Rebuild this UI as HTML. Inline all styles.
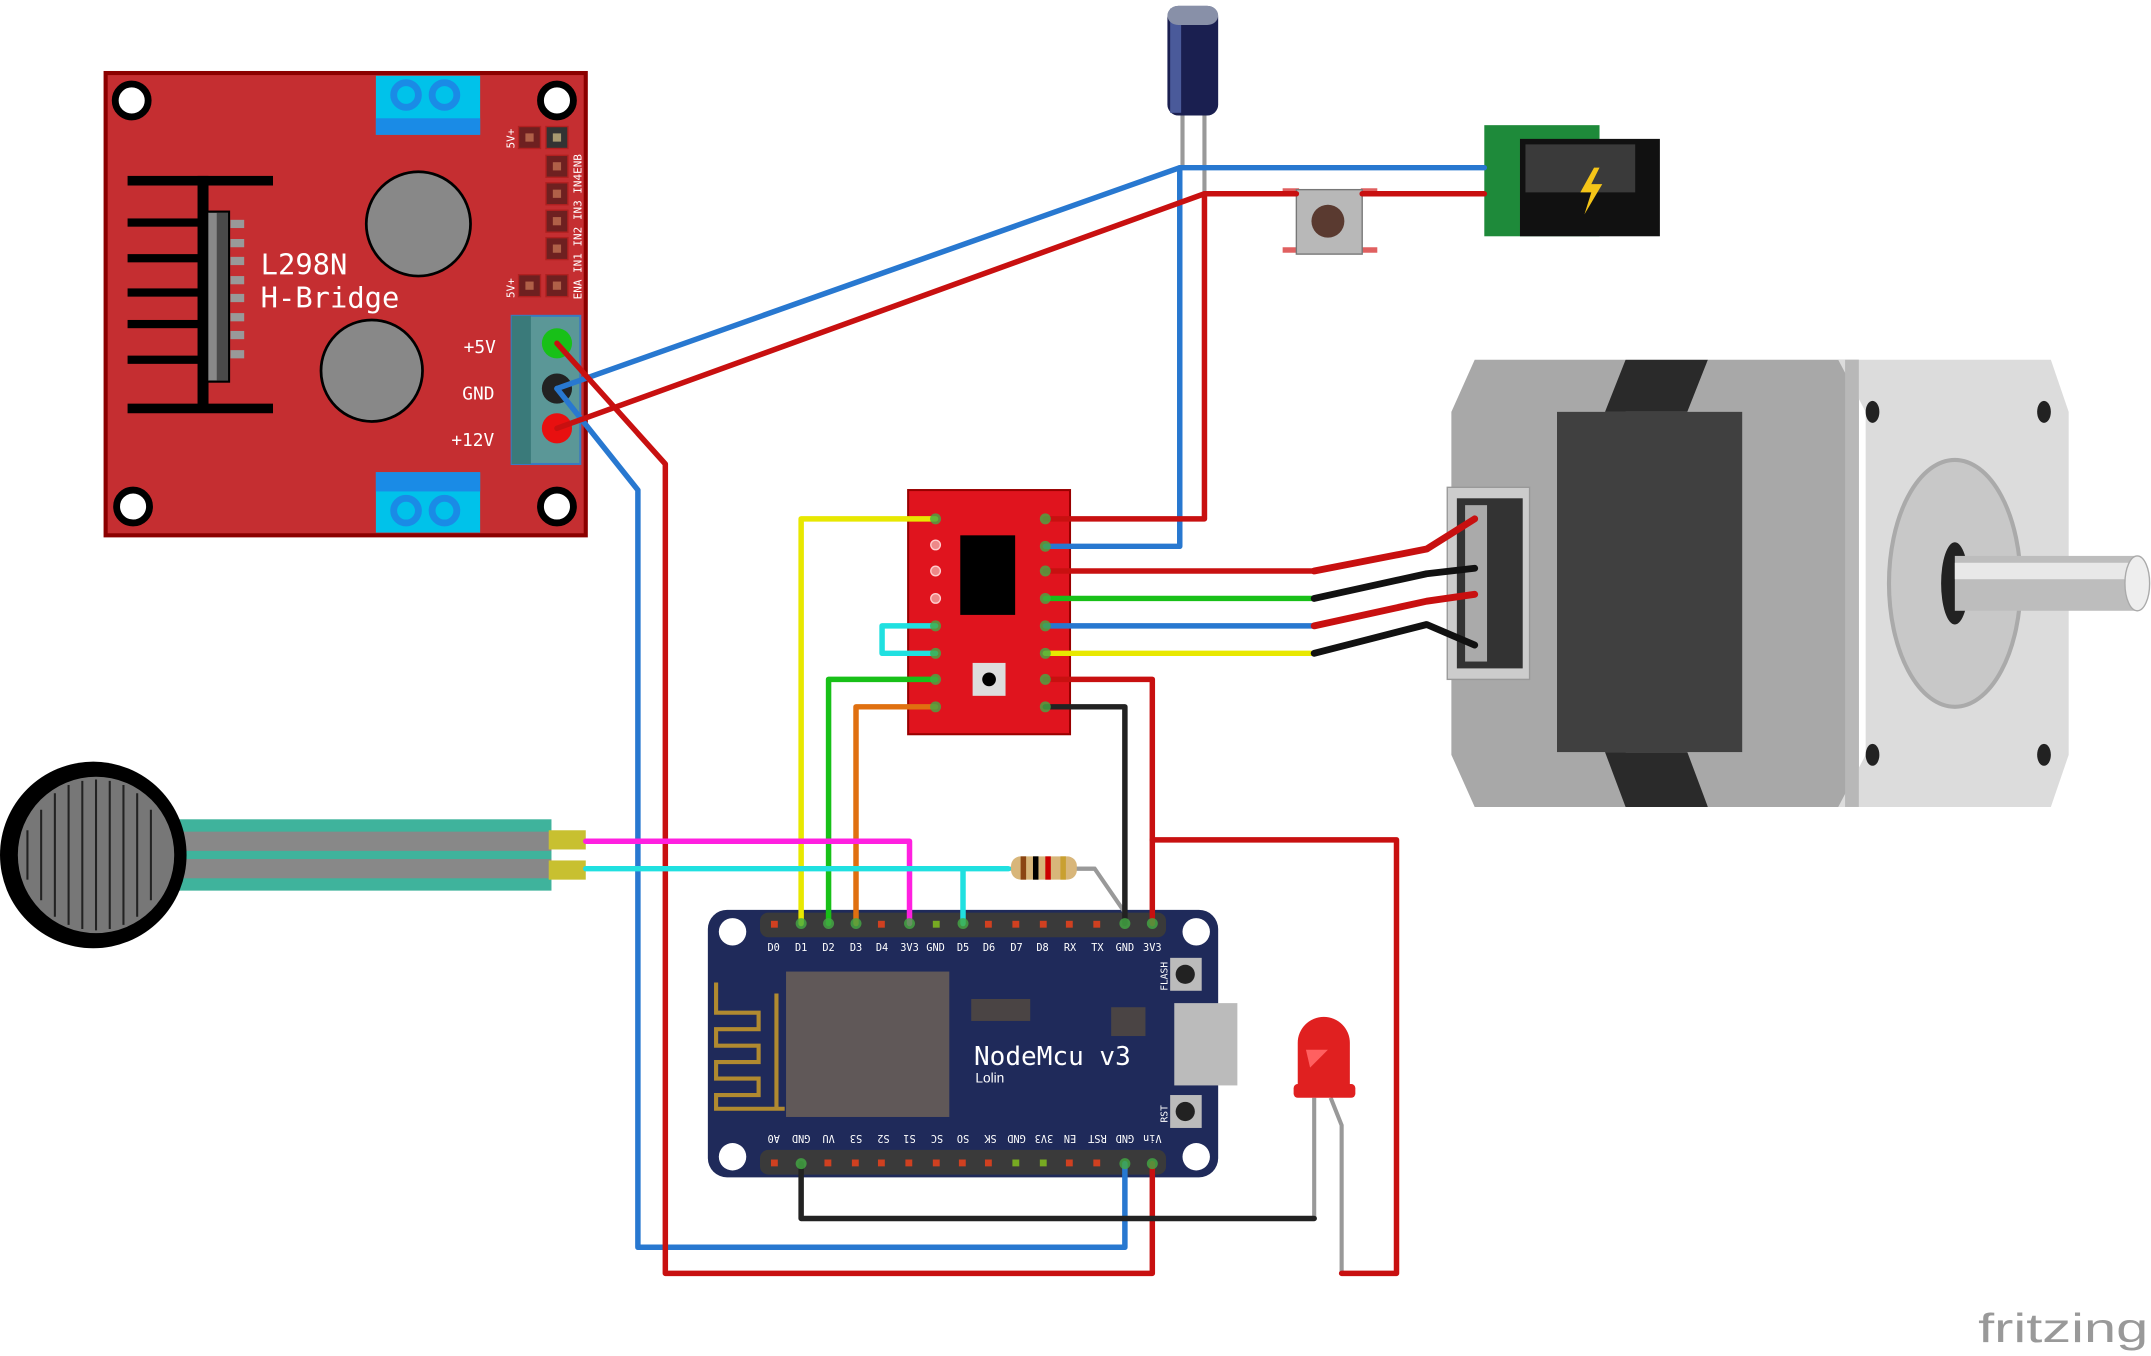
<!DOCTYPE html>
<html><head><meta charset="utf-8"><style>
html,body{margin:0;padding:0;background:#fff;width:2151px;height:1356px;overflow:hidden}
svg{display:block}
text{font-family:"DejaVu Sans Mono","Liberation Mono",monospace}
</style></head><body>
<svg width="2151" height="1356" viewBox="0 0 1568 988" xmlns="http://www.w3.org/2000/svg">
<!-- L298N -->
<rect x="77" y="53" width="350" height="337" fill="#c52e31" stroke="#8b0000" stroke-width="3"/>
<g fill="#fff" stroke="#000" stroke-width="5">
<circle cx="96" cy="73" r="12"/><circle cx="406" cy="73" r="12"/><circle cx="97" cy="369" r="12"/><circle cx="406" cy="369" r="12"/></g>
<rect x="274" y="55" width="76" height="43" fill="#00c2ea"/><rect x="274" y="86" width="76" height="12" fill="#1a8be6"/>
<circle cx="296" cy="69" r="9" fill="none" stroke="#1a8be6" stroke-width="5"/><circle cx="324" cy="69" r="9" fill="none" stroke="#1a8be6" stroke-width="5"/>
<rect x="274" y="344" width="76" height="44" fill="#00c2ea"/><rect x="274" y="344" width="76" height="14" fill="#1a8be6"/>
<circle cx="296" cy="372" r="9" fill="none" stroke="#1a8be6" stroke-width="5"/><circle cx="324" cy="372" r="9" fill="none" stroke="#1a8be6" stroke-width="5"/>
<g fill="#000"><rect x="93" y="128" width="106" height="7"/><rect x="93" y="294" width="106" height="7"/>
<rect x="144" y="128" width="8" height="170"/>
<rect x="93" y="159" width="55" height="6"/><rect x="93" y="185" width="55" height="6"/><rect x="93" y="210" width="55" height="6"/><rect x="93" y="233" width="55" height="6"/><rect x="93" y="259" width="55" height="6"/></g>
<rect x="151" y="154" width="16" height="124" fill="#4a4a4a" stroke="#000" stroke-width="1.5"/><rect x="152" y="155" width="6" height="122" fill="#888"/>
<g fill="#999"><rect x="168" y="160" width="10" height="6"/><rect x="168" y="174" width="10" height="6"/><rect x="168" y="187" width="10" height="6"/><rect x="168" y="201" width="10" height="6"/><rect x="168" y="214" width="10" height="6"/><rect x="168" y="228" width="10" height="6"/><rect x="168" y="241" width="10" height="6"/><rect x="168" y="255" width="10" height="6"/></g>
<circle cx="305" cy="163" r="38" fill="#888" stroke="#000" stroke-width="2"/>
<circle cx="271" cy="270" r="37" fill="#888" stroke="#000" stroke-width="2"/>
<text x="190" y="200" font-size="21" fill="#fff">L298N</text>
<text x="190" y="224" font-size="21" fill="#fff">H-Bridge</text>
<g fill="#6e2020" stroke="#b02020" stroke-width="1"><rect x="378" y="92" width="16" height="16"/><rect x="398" y="92" width="16" height="16" fill="#333"/>
<rect x="398" y="113" width="16" height="16"/><rect x="398" y="133" width="16" height="16"/><rect x="398" y="153" width="16" height="16"/><rect x="398" y="173" width="16" height="16"/><rect x="398" y="200" width="16" height="16"/><rect x="378" y="200" width="16" height="16"/></g>
<g fill="#b06048"><rect x="383" y="97" width="6" height="6"/><rect x="403" y="97" width="6" height="6" fill="#a89a70"/><rect x="403" y="118" width="6" height="6"/><rect x="403" y="138" width="6" height="6"/><rect x="403" y="158" width="6" height="6"/><rect x="403" y="178" width="6" height="6"/><rect x="403" y="205" width="6" height="6"/><rect x="383" y="205" width="6" height="6"/></g>
<g font-size="8" fill="#fff"><text transform="translate(375,108) rotate(-90)">5V+</text><text transform="translate(375,217) rotate(-90)">5V+</text>
<text transform="translate(424,218) rotate(-90)">ENA IN1 IN2 IN3 IN4ENB</text></g>
<rect x="373" y="230" width="50" height="108" fill="#5b9797" stroke="#3a7ac0" stroke-width="1.5"/><rect x="373" y="230" width="14" height="108" fill="#3a7a7a"/>
<circle cx="406" cy="250" r="11" fill="#18c018"/><circle cx="406" cy="283" r="11" fill="#222"/><circle cx="406" cy="312" r="11" fill="#e81010"/>
<g font-size="13" fill="#fff"><text x="338" y="257">+5V</text><text x="337" y="291">GND</text><text x="329" y="325">+12V</text></g>

<!-- capacitor -->
<line x1="862" y1="80" x2="862" y2="122" stroke="#999" stroke-width="3"/><line x1="878" y1="80" x2="878" y2="141" stroke="#999" stroke-width="3"/>
<rect x="851" y="4" width="37" height="80" rx="8" fill="#1a1f50"/><rect x="853" y="6" width="8" height="76" fill="#4a5a9a"/><rect x="851" y="4" width="37" height="14" rx="8" fill="#8890a8"/>
<!-- DC jack -->
<rect x="1082" y="91" width="84" height="81" fill="#1e8a3a"/><rect x="1108" y="101" width="102" height="71" fill="#111"/><rect x="1112" y="105" width="80" height="35" fill="#3a3a3a"/>
<path d="M1162 122 L1152 140 L1160 140 L1155 156 L1168 134 L1160 134 L1166 122Z" fill="#f5c518"/>
<!-- button -->
<rect x="935" y="137" width="12" height="4" fill="#e06060"/><rect x="992" y="137" width="12" height="4" fill="#e06060"/><rect x="935" y="180" width="12" height="4" fill="#e06060"/><rect x="992" y="180" width="12" height="4" fill="#e06060"/>
<rect x="945" y="138" width="48" height="47" fill="#b8b8b8" stroke="#777"/><circle cx="968" cy="161" r="12" fill="#5a3a30"/>
<!-- stepper -->
<polygon points="1058,300 1075,262 1185,262 1185,588 1075,588 1058,550" fill="#a8a8a8"/>
<polygon points="1230,300 1245,262 1355,262 1355,588 1245,588 1230,550" fill="#a8a8a8"/>
<rect x="1135" y="300" width="135" height="248" fill="#404040"/>
<polygon points="1185,262 1245,262 1230,300 1170,300" fill="#2a2a2a"/><polygon points="1170,548 1230,548 1245,588 1185,588" fill="#2a2a2a"/>
<polygon points="1340,262 1495,262 1508,300 1508,550 1495,588 1340,588 1360,550 1360,300" fill="#dcdcdc"/>
<rect x="1345" y="262" width="10" height="326" fill="#b8b8b8"/>
<ellipse cx="1425" cy="425" rx="48" ry="90" fill="#c8c8c8" stroke="#aaa" stroke-width="3"/>
<ellipse cx="1425" cy="425" rx="10" ry="30" fill="#222"/>
<rect x="1425" y="405" width="135" height="40" fill="#bdbdbd"/><rect x="1425" y="410" width="135" height="12" fill="#e8e8e8"/>
<ellipse cx="1558" cy="425" rx="9" ry="20" fill="#eee" stroke="#aaa"/>
<g fill="#222"><ellipse cx="1365" cy="300" rx="5" ry="8"/><ellipse cx="1490" cy="300" rx="5" ry="8"/><ellipse cx="1365" cy="550" rx="5" ry="8"/><ellipse cx="1490" cy="550" rx="5" ry="8"/></g>
<rect x="1055" y="355" width="60" height="140" fill="#ccc" stroke="#999"/><rect x="1062" y="363" width="48" height="124" fill="#333"/><rect x="1068" y="368" width="16" height="114" fill="#aaa"/>
<!-- A4988 -->
<rect x="662" y="357" width="118" height="178" fill="#e0141e" stroke="#900" stroke-width="1.5"/>
<rect x="700" y="390" width="40" height="58" fill="#000"/>
<rect x="709" y="483" width="24" height="24" fill="#ddd"/><circle cx="721" cy="495" r="5" fill="#000"/>
<g fill="#e88" stroke="#fcc"><circle cx="682" cy="397" r="3.5"/><circle cx="682" cy="416" r="3.5"/><circle cx="682" cy="436" r="3.5"/></g>
<!-- FSR -->
<rect x="130" y="597" width="272" height="52" fill="#3fb39c"/><rect x="130" y="626" width="272" height="14" fill="#888"/><rect x="130" y="606" width="272" height="14" fill="#888"/>
<circle cx="68" cy="623" r="68" fill="#000"/><circle cx="70" cy="623" r="57" fill="#777"/>
<g stroke="#222" stroke-width="1.5">
<line x1="30" y1="590" x2="30" y2="656"/><line x1="40" y1="578" x2="40" y2="668"/><line x1="50" y1="572" x2="50" y2="674"/><line x1="60" y1="569" x2="60" y2="677"/><line x1="70" y1="568" x2="70" y2="678"/><line x1="80" y1="569" x2="80" y2="677"/><line x1="90" y1="572" x2="90" y2="674"/><line x1="100" y1="578" x2="100" y2="668"/><line x1="110" y1="590" x2="110" y2="656"/><line x1="20" y1="605" x2="20" y2="641"/></g>
<rect x="400" y="605" width="27" height="14" fill="#c8c030"/><rect x="400" y="627" width="27" height="14" fill="#c8c030"/>
<!-- NodeMCU -->
<rect x="516" y="663" width="372" height="195" rx="14" fill="#1f2a5a"/>
<g fill="#fff"><circle cx="534" cy="679" r="10"/><circle cx="872" cy="679" r="10"/><circle cx="534" cy="843" r="10"/><circle cx="872" cy="843" r="10"/></g>
<rect x="554" y="665" width="296" height="18" rx="6" fill="#3a3a3a"/><rect x="554" y="838" width="296" height="18" rx="6" fill="#3a3a3a"/>
<g fill="#d04020">
<rect x="562" y="671" width="5" height="5"/><rect x="640" y="671" width="5" height="5"/><rect x="718" y="671" width="5" height="5"/><rect x="738" y="671" width="5" height="5"/><rect x="758" y="671" width="5" height="5"/><rect x="777" y="671" width="5" height="5"/><rect x="797" y="671" width="5" height="5"/>
<rect x="562" y="845" width="5" height="5"/><rect x="601" y="845" width="5" height="5"/><rect x="621" y="845" width="5" height="5"/><rect x="640" y="845" width="5" height="5"/><rect x="660" y="845" width="5" height="5"/><rect x="680" y="845" width="5" height="5"/><rect x="699" y="845" width="5" height="5"/><rect x="718" y="845" width="5" height="5"/><rect x="777" y="845" width="5" height="5"/><rect x="797" y="845" width="5" height="5"/></g>
<g fill="#7a2"><rect x="680" y="671" width="5" height="5"/><rect x="738" y="845" width="5" height="5"/><rect x="758" y="845" width="5" height="5"/></g>
<g font-size="7.5" fill="#fff" text-anchor="middle">
<text x="564" y="693">D0</text><text x="584" y="693">D1</text><text x="604" y="693">D2</text><text x="624" y="693">D3</text><text x="643" y="693">D4</text><text x="663" y="693">3V3</text><text x="682" y="693">GND</text><text x="702" y="693">D5</text><text x="721" y="693">D6</text><text x="741" y="693">D7</text><text x="760" y="693">D8</text><text x="780" y="693">RX</text><text x="800" y="693">TX</text><text x="820" y="693">GND</text><text x="840" y="693">3V3</text>
<g transform="rotate(180 702 830)">
<text x="840" y="833">A0</text><text x="820" y="833">GND</text><text x="800" y="833">VU</text><text x="780" y="833">S3</text><text x="760" y="833">S2</text><text x="741" y="833">S1</text><text x="721" y="833">SC</text><text x="702" y="833">SO</text><text x="682" y="833">SK</text><text x="663" y="833">GND</text><text x="643" y="833">3V3</text><text x="624" y="833">EN</text><text x="604" y="833">RST</text><text x="584" y="833">GND</text><text x="564" y="833">Vin</text></g></g>
<rect x="573" y="708" width="119" height="106" fill="#605858"/>
<path d="M522 716 V738 H553 V750 H522 V762 H553 V774 H522 V786 H553 V798 H522 V808 H572 M566 808 V724" fill="none" stroke="#b08a30" stroke-width="3"/>
<rect x="708" y="728" width="43" height="16" fill="#4a4444"/><rect x="810" y="734" width="25" height="21" fill="#4a4444"/>
<text x="710" y="776" font-size="19" fill="#fff">NodeMcu v3</text>
<text x="711" y="789" font-size="10" fill="#fff" style="font-family:'Liberation Sans',sans-serif">Lolin</text>
<rect x="853" y="698" width="23" height="24" fill="#bbb"/><circle cx="864" cy="710" r="7" fill="#222"/>
<rect x="853" y="798" width="23" height="24" fill="#bbb"/><circle cx="864" cy="810" r="7" fill="#222"/>
<rect x="856" y="731" width="46" height="60" fill="#bbb"/>
<text transform="translate(851,722) rotate(-90)" font-size="7" fill="#fff">FLASH</text>
<text transform="translate(851,818) rotate(-90)" font-size="7" fill="#fff">RST</text>
<!-- resistor -->
<line x1="728" y1="633" x2="798" y2="633" stroke="#999" stroke-width="3"/>
<rect x="737" y="624" width="48" height="17" rx="7" fill="#d8b67a"/>
<g fill="#8b4513"><rect x="744" y="624" width="4" height="17"/><rect x="753" y="624" width="4" height="17" fill="#000"/><rect x="762" y="624" width="4" height="17" fill="#c00"/><rect x="773" y="624" width="4" height="17" fill="#c9a030"/></g>
<polyline points="785,633 798,633 820,665" fill="none" stroke="#999" stroke-width="3"/>
<!-- LED -->
<polyline points="958,800 958,888" fill="none" stroke="#999" stroke-width="3"/>
<polyline points="970,800 978,820 978,928" fill="none" stroke="#999" stroke-width="3"/>
<path d="M946 760 a19 19 0 0 1 38 0 V795 H946Z" fill="#e02020"/><rect x="943" y="790" width="45" height="10" rx="3" fill="#e02020"/>
<path d="M952 765 L968 765 L955 778Z" fill="#ff6060"/>
<!-- wires -->
<g fill="none" stroke-width="4" stroke-linejoin="round" stroke-linecap="round">
<polyline stroke="#2878d0" points="406,283 860,122 1082,122"/>
<polyline stroke="#2878d0" points="860,122 860,398 762,398"/>
<polyline stroke="#2878d0" points="406,283 465,357 465,909 820,909 820,848"/>
<polyline stroke="#c81010" points="406,312 878,141 945,141"/>
<polyline stroke="#c81010" points="993,141 1082,141"/>
<polyline stroke="#c81010" points="878,141 878,378 762,378"/>
<polyline stroke="#c81010" points="406,250 485,338 485,928 840,928 840,848"/>
<polyline stroke="#c81010" points="762,416 958,416"/>
<polyline stroke="#18c018" points="762,436 958,436"/>
<polyline stroke="#2878d0" points="762,456 958,456"/>
<polyline stroke="#e8e800" points="762,476 958,476"/>
<polyline stroke="#c81010" points="762,495 840,495 840,673"/>
<polyline stroke="#222" points="762,515 820,515 820,673"/>
<polyline stroke="#c81010" stroke-width="5" points="958,416 1040,400 1075,378"/>
<polyline stroke="#111" stroke-width="5" points="958,436 1040,418 1075,414"/>
<polyline stroke="#c81010" stroke-width="5" points="958,456 1040,438 1075,433"/>
<polyline stroke="#111" stroke-width="5" points="958,476 1040,455 1075,470"/>
<polyline stroke="#e8e800" points="682,378 584,378 584,673"/>
<polyline stroke="#18c018" points="682,495 604,495 604,673"/>
<polyline stroke="#e07010" points="682,515 624,515 624,673"/>
<polyline stroke="#20e0e0" points="682,456 643,456 643,476 682,476"/>
<polyline stroke="#ff20e0" points="427,613 663,613 663,673"/>
<polyline stroke="#20e0e0" points="427,633 735,633"/>
<polyline stroke="#20e0e0" points="702,633 702,673"/>
<polyline stroke="#c81010" points="840,612 1018,612 1018,928 978,928"/>
<polyline stroke="#222" points="584,848 584,888 958,888"/>
</g>
<g fill="#4a4" opacity="0.8"><circle cx="584" cy="673" r="4"/><circle cx="604" cy="673" r="4"/><circle cx="624" cy="673" r="4"/><circle cx="663" cy="673" r="4"/><circle cx="702" cy="673" r="4"/><circle cx="820" cy="673" r="4"/><circle cx="840" cy="673" r="4"/><circle cx="584" cy="848" r="4"/><circle cx="820" cy="848" r="4"/><circle cx="840" cy="848" r="4"/>
<circle cx="682" cy="378" r="4"/><circle cx="762" cy="378" r="4"/><circle cx="762" cy="398" r="4"/><circle cx="762" cy="416" r="4"/><circle cx="762" cy="436" r="4"/><circle cx="762" cy="456" r="4"/><circle cx="762" cy="476" r="4"/><circle cx="762" cy="495" r="4"/><circle cx="762" cy="515" r="4"/><circle cx="682" cy="456" r="4"/><circle cx="682" cy="476" r="4"/><circle cx="682" cy="495" r="4"/><circle cx="682" cy="515" r="4"/></g>
<text x="1442" y="978" font-size="30" fill="#999" textLength="124" lengthAdjust="spacingAndGlyphs" style="font-family:'Liberation Sans',sans-serif">fritzing</text>
</svg>
</body></html>
